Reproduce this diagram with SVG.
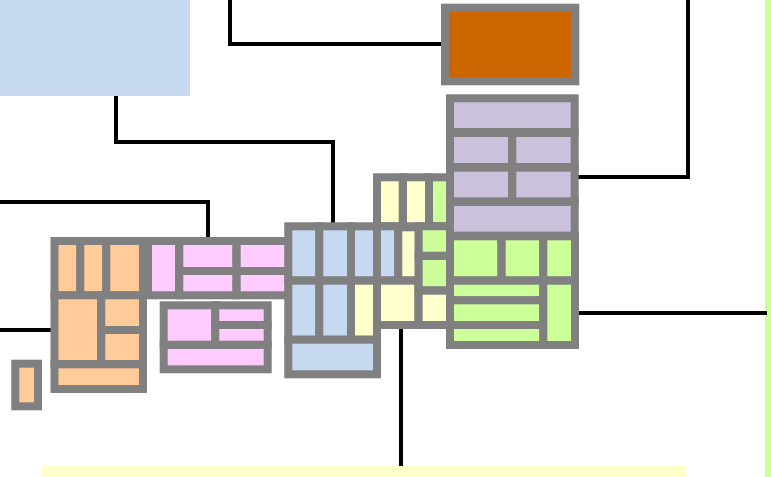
<svg xmlns="http://www.w3.org/2000/svg" width="771" height="477" viewBox="0 0 771 477">
<style>
.c{fill:none;stroke:#000;stroke-width:4;stroke-linecap:square}
.n rect{stroke:#808080;stroke-width:8}
.or rect{fill:#FFCC99}.pk rect{fill:#FFCCFF}.bl rect{fill:#C6D9F1}.ye,.n .ye{fill:#FFFFCC}.gr rect,.n .gr{fill:#CCFF99}.pu rect{fill:#CCC1DA}
</style>
<rect id="area-blue" x="0" y="0" width="190" height="96" fill="#C6D9F1"/>
<rect id="area-yellow" x="42" y="466" width="644" height="11" fill="#FFFFCC"/>
<rect id="area-green" x="765" y="0" width="6" height="477" fill="#CCFF99"/>
<g id="connectors">
<path class="c" d="M230 0V44H441"/>
<path class="c" d="M688 0V177H579"/>
<path class="c" d="M116 98V142H333V223"/>
<path class="c" d="M0 202H208V238"/>
<path class="c" d="M0 330H51"/>
<path class="c" d="M579 313H765"/>
<path class="c" d="M401 329V464"/>
</g>
<g id="node-small" class="n or"><rect x="15.3" y="363.7" width="22.7" height="42.6"/></g>
<g id="node-pink-top" class="n pk">
<rect x="148" y="241" width="31" height="54.3"/>
<rect x="179.3" y="241" width="57" height="30"/>
<rect x="179.3" y="271" width="57" height="24.3"/>
<rect x="236.7" y="241" width="52" height="30"/>
<rect x="236.7" y="271" width="52" height="24.3"/>
</g>
<g id="node-orange" class="n or">
<rect x="54.5" y="241" width="26" height="54.3"/>
<rect x="80.3" y="241" width="26" height="54.3"/>
<rect x="106.3" y="241" width="36.7" height="54.3"/>
<rect x="54.5" y="295.3" width="46.5" height="68.7"/>
<rect x="101.3" y="295.3" width="41.7" height="34.7"/>
<rect x="101.3" y="330" width="41.7" height="34"/>
<rect x="54.5" y="364.3" width="88.5" height="24.7"/>
</g>
<g id="node-pink-lower" class="n pk">
<rect x="163.7" y="305.3" width="51.6" height="39.4"/>
<rect x="215.3" y="305.3" width="52.4" height="19.7"/>
<rect x="215.3" y="325" width="52.4" height="19.7"/>
<rect x="163.7" y="345" width="104" height="24.3"/>
</g>
<g id="node-top-yellow" class="n">
<rect class="ye" x="377" y="177.3" width="25.7" height="49"/>
<rect class="ye" x="403" y="177.3" width="26" height="49"/>
<rect class="gr" x="429" y="177.3" width="21" height="49"/>
</g>
<g id="node-blue" class="n bl">
<rect x="288.3" y="226.3" width="31" height="54"/>
<rect x="319.3" y="226.3" width="31.7" height="54"/>
<rect x="351" y="226.3" width="26" height="54"/>
<rect x="288.3" y="280.7" width="31" height="59"/>
<rect x="319.3" y="280.7" width="31.7" height="59"/>
<rect class="ye" style="fill:#FFFFCC" x="351" y="280.7" width="26" height="59"/>
<rect x="288.3" y="339.7" width="88.7" height="34.6"/>
</g>
<g id="node-middle" class="n">
<rect style="fill:#C6D9F1" x="377" y="226.3" width="21.3" height="54"/>
<rect class="ye" x="398.3" y="227.3" width="20.4" height="53"/>
<rect class="ye" x="377" y="280.7" width="41.3" height="44.3"/>
<rect class="gr" x="418.7" y="226.3" width="31.3" height="29.4"/>
<rect class="gr" x="418.7" y="256" width="31.3" height="34.3"/>
<rect class="ye" x="418.7" y="290.7" width="31.3" height="34.3"/>
</g>
<g id="node-green" class="n gr">
<rect x="450" y="236.3" width="51.3" height="44"/>
<rect x="501.7" y="236.3" width="41.6" height="44"/>
<rect x="543.3" y="236.3" width="31.7" height="44"/>
<rect x="450" y="280.7" width="93.3" height="19.6"/>
<rect x="450" y="300.3" width="93.3" height="24.7"/>
<rect x="450" y="325" width="93.3" height="20"/>
<rect x="543.3" y="280.7" width="31.7" height="64.3"/>
</g>
<g id="node-purple" class="n pu">
<rect x="450" y="98.3" width="124.7" height="33.7"/>
<rect x="450" y="133" width="62" height="34"/>
<rect x="512.3" y="133" width="62.4" height="34"/>
<rect x="450" y="167.7" width="62" height="33.6"/>
<rect x="512.3" y="167.7" width="62.4" height="33.6"/>
<rect x="450" y="202" width="124.7" height="33.7"/>
</g>
<g id="node-brown" class="n"><rect style="fill:#CC6600" x="445" y="7.7" width="130.3" height="73.6"/></g>
</svg>
